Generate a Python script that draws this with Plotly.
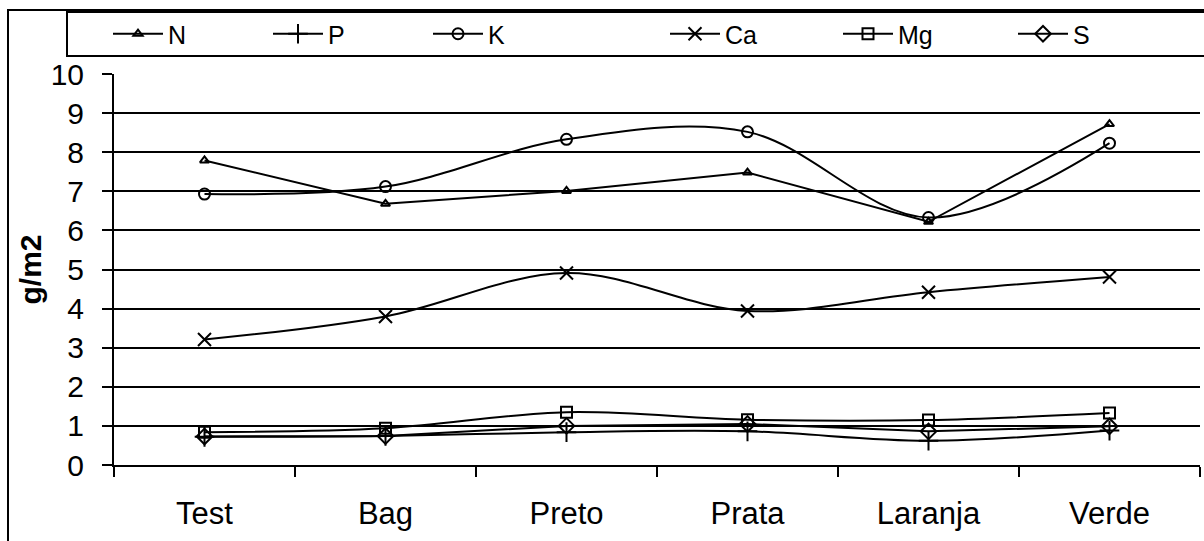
import plotly.graph_objects as go

categories = ["Test", "Bag", "Preto", "Prata", "Laranja", "Verde"]

n_vals = [7.79, 6.68, 7.01, 7.48, 6.22, 8.72]
p_vals = [0.72, 0.74, 0.84, 0.86, 0.62, 0.88]
k_vals = [6.93, 7.12, 8.33, 8.52, 6.33, 8.23]
ca_vals = [3.21, 3.80, 4.91, 3.94, 4.42, 4.81]
mg_vals = [0.84, 0.94, 1.35, 1.16, 1.15, 1.33]
s_vals = [0.73, 0.74, 1.00, 1.05, 0.86, 0.99]

y_ticks = list(range(0, 11))

FONT = "Arial, Liberation Sans, sans-serif"

# plot-area geometry in pixels
W, H = 1204, 541
L, R, T, B = 114, 4, 74, 76
PW = W - L - R
PH = H - T - B


def px_x(px):
    return (px - L) / PW


def px_y(py):
    return (H - B - py) / PH


series = [
    ("N", n_vals, "triangle-up-open", 8, "linear"),
    ("P", p_vals, "cross-thin-open", 14, "spline"),
    ("K", k_vals, "circle-open", 11, "spline"),
    ("Ca", ca_vals, "x-thin-open", 13, "spline"),
    ("Mg", mg_vals, "square-open", 11, "spline"),
    ("S", s_vals, "diamond-open", 12, "linear"),
]

# legend anchor positions (pixel x of each legend entry)
legend_px = [108, 268, 428, 665, 838, 1013]

fig = go.Figure()
for i, (name, vals, sym, size, shape) in enumerate(series):
    lg = "legend" if i == 0 else f"legend{i + 1}"
    fig.add_trace(go.Scatter(
        x=categories, y=vals, name=name, mode="lines+markers",
        line=dict(color="black", width=2, shape=shape, smoothing=1),
        marker=dict(symbol=sym, size=size, color="black",
                    line=dict(color="black", width=2)),
        legend=lg,
    ))

legend_common = dict(
    orientation="h", yanchor="middle", xanchor="left",
    bgcolor="rgba(0,0,0,0)", borderwidth=0, itemwidth=50,
    font=dict(family=FONT, size=25, color="black"),
)
layout_legends = {}
for i, lx in enumerate(legend_px):
    key = "legend" if i == 0 else f"legend{i + 1}"
    layout_legends[key] = dict(legend_common, x=px_x(lx), y=px_y(34))

fig.update_layout(
    width=W, height=H,
    margin=dict(l=L, r=R, t=T, b=B),
    paper_bgcolor="white", plot_bgcolor="white",
    showlegend=True,
    font=dict(family=FONT, color="black"),
    xaxis=dict(
        type="category", range=[-0.5, 5.5],
        showline=True, linecolor="black", linewidth=2,
        ticks="outside", tickson="boundaries", ticklen=10,
        tickcolor="black", tickwidth=2,
        showgrid=False, zeroline=False,
        tickfont=dict(family=FONT, size=31, color="black"),
        ticklabelstandoff=20,
    ),
    yaxis=dict(
        range=[0, 10], tickvals=y_ticks,
        showline=True, linecolor="black", linewidth=2,
        ticks="outside", ticklen=10, tickcolor="black", tickwidth=2,
        showgrid=True, gridcolor="black", gridwidth=1.5,
        zeroline=False,
        tickfont=dict(family=FONT, size=30, color="black"),
        ticklabelstandoff=12,
        title=dict(text="<b>g/m2</b>", font=dict(family=FONT, size=30, color="black"),
                   standoff=0),
    ),
    shapes=[
        # outer chart frame
        dict(type="rect", xref="paper", yref="paper",
             x0=px_x(8), x1=px_x(1210), y0=px_y(560), y1=px_y(10),
             line=dict(color="black", width=2), fillcolor="rgba(0,0,0,0)", layer="below"),
        # legend box
        dict(type="rect", xref="paper", yref="paper",
             x0=px_x(67), x1=px_x(1210), y0=px_y(56), y1=px_y(12),
             line=dict(color="black", width=2), fillcolor="rgba(0,0,0,0)", layer="below"),
    ],
    **layout_legends,
)

fig.write_html("out.html")
